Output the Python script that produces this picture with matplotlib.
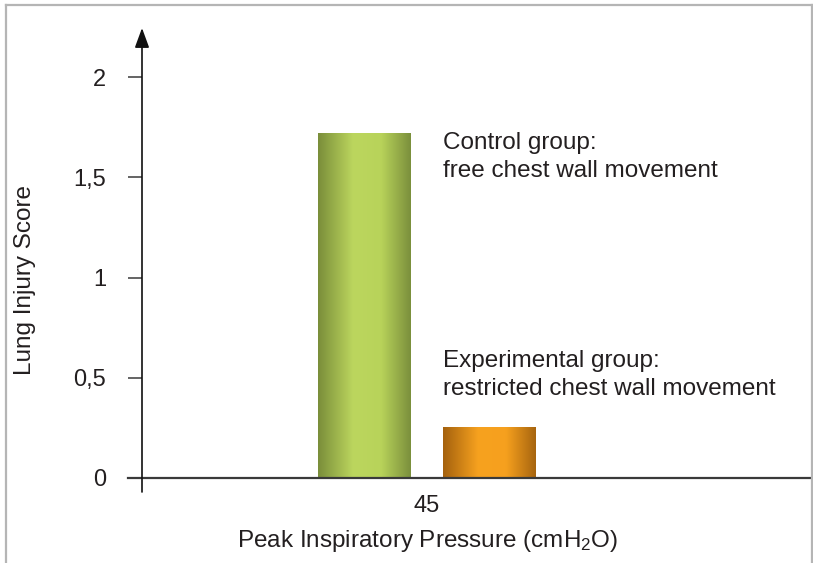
import numpy as np
import matplotlib
matplotlib.use("Agg")
import matplotlib.pyplot as plt
from matplotlib.lines import Line2D
from matplotlib.colors import LinearSegmentedColormap

plt.rcParams['font.family'] = ['Liberation Sans', 'DejaVu Sans']
plt.rcParams['mathtext.fontset'] = 'custom'
plt.rcParams['mathtext.rm'] = 'Liberation Sans'

# data
groups = ['Control group:\nfree chest wall movement',
          'Experimental group:\nrestricted chest wall movement']
scores = [1.72, 0.25]
pressure_labels = ['45']
y_ticks = [0, 0.5, 1, 1.5, 2]
y_tick_labels = ['0', '0,5', '1', '1,5', '2']

text_color = '#231f20'
axis_color = '#3a3a3a'
bar_colors = [
    ['#7a8e3a', '#bcd65e', '#b8d35a', '#7b8f3c'],
    ['#a4610e', '#f7a21f', '#f6a01e', '#a7650f'],
]
fs = 17.5

W, H = 813, 563
fig = plt.figure(figsize=(W / 100, H / 100), dpi=100)
ax = fig.add_axes([142 / W, 85 / H, 668 / W, 450 / H])
for s in ax.spines.values():
    s.set_visible(False)

width = 0.4
offsets = [-0.272, 0.272]
for i, (score, off) in enumerate(zip(scores, offsets)):
    x0 = off - width / 2
    cmap = LinearSegmentedColormap.from_list(
        'g%d' % i, list(zip([0, 0.38, 0.68, 1], bar_colors[i])))
    grad = np.linspace(0, 1, 256).reshape(1, -1)
    ax.imshow(grad, cmap=cmap, aspect='auto', extent=(x0, x0 + width, 0, score),
              zorder=2, interpolation='bicubic')

ax.set_ylim(0, 450 / 200.5)
ax.set_xlim(-1.237, 1.667)

# annotations next to the bars
lx = offsets[1] - width / 2
ax.text(lx, 1.60, groups[0], va='center', ha='left', fontsize=fs,
        color=text_color, linespacing=1.36)
ax.text(lx, 0.515, groups[1], va='center', ha='left', fontsize=fs,
        color=text_color, linespacing=1.36)

# ticks
ax.set_yticks(y_ticks)
ax.set_yticklabels(y_tick_labels)
ax.set_xticks([0])
ax.set_xticklabels(pressure_labels)
ax.tick_params(axis='y', length=10, width=1.1, color=axis_color, pad=16,
               labelsize=17, labelcolor=text_color)
ax.tick_params(axis='x', length=0, pad=12, labelsize=17, labelcolor=text_color)

# axes lines
ax.add_line(Line2D([-14 / 668, 1], [0, 0], transform=ax.transAxes,
                   color=axis_color, lw=1.6, clip_on=False, zorder=3))
ax.annotate('', xy=(0, 1), xycoords='axes fraction', xytext=(0, -14 / 450),
            textcoords='axes fraction',
            arrowprops=dict(arrowstyle='-|>,head_length=0.6,head_width=0.22',
                            mutation_scale=20, lw=1.2, color='#111111',
                            shrinkA=0, shrinkB=0))

fig.text(427.5 / W, 1 - 541 / H, r'Peak Inspiratory Pressure (cmH$\mathregular{_2}$O)',
         fontsize=fs, color=text_color, ha='center', va='center')
fig.text(25 / W, 1 - 280 / H, 'Lung Injury Score', fontsize=fs, color=text_color,
         ha='center', va='center', rotation=90)

# frame around the figure
fc = '#b5b5b5'
fig.add_artist(Line2D([6 / W, 6 / W], [0, 1 - 5 / H], transform=fig.transFigure, color=fc, lw=1.6))
fig.add_artist(Line2D([6 / W, 812 / W], [1 - 5 / H, 1 - 5 / H], transform=fig.transFigure, color=fc, lw=1.6))
fig.add_artist(Line2D([812 / W, 812 / W], [0, 1 - 5 / H], transform=fig.transFigure, color=fc, lw=1.6))

fig.savefig('out.png', dpi=100)
